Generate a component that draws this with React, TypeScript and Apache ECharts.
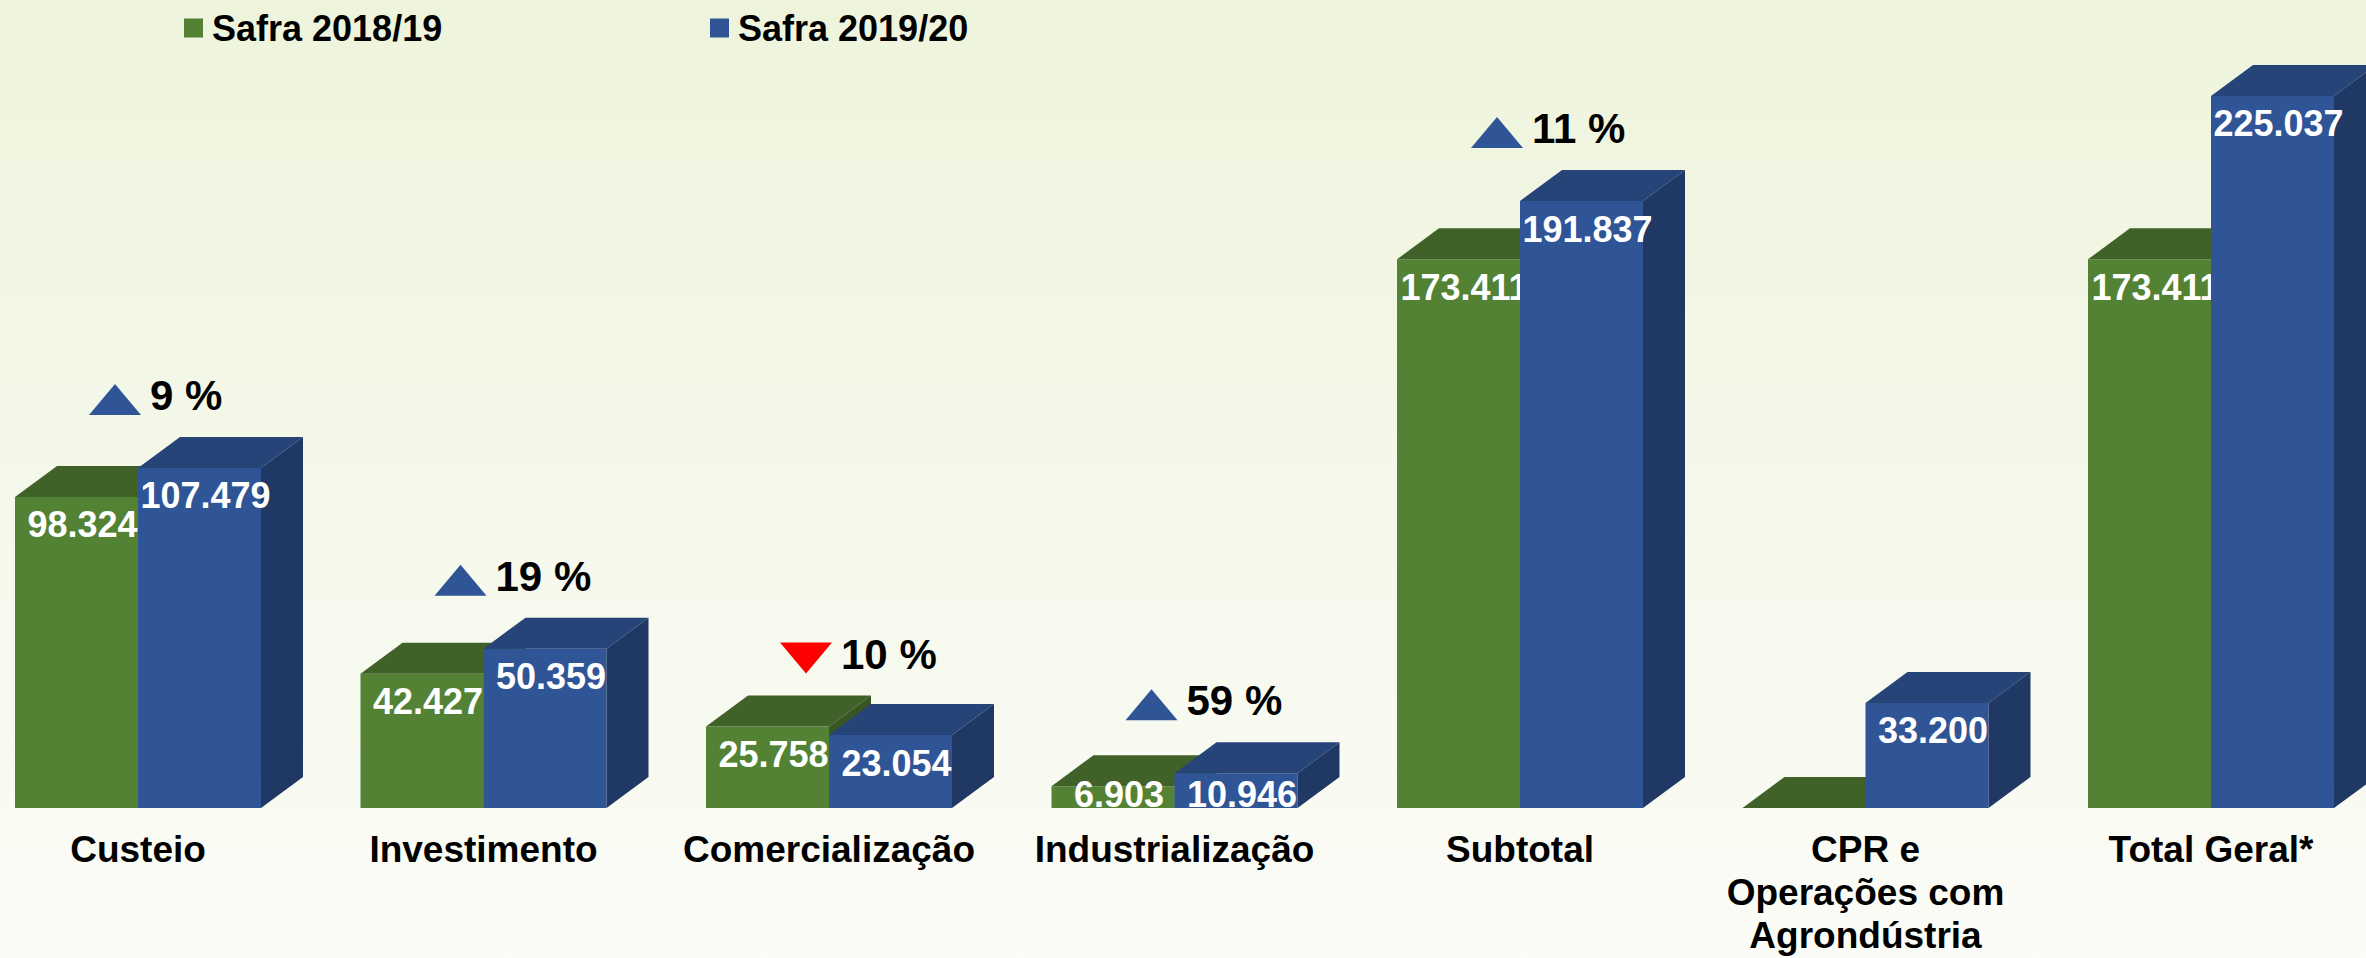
import React, { useEffect, useRef } from "react";
import * as echarts from "echarts";

const categories = [
  "Custeio",
  "Investimento",
  "Comercialização",
  "Industrialização",
  "Subtotal",
  "CPR e\nOperações com\nAgrondústria",
  "Total Geral*",
];
const seriesNames = ["Safra 2018/19", "Safra 2019/20"];
const safra1819 = [98324, 42427, 25758, 6903, 173411, 0, 173411];
const safra1920 = [107479, 50359, 23054, 10946, 191837, 33200, 225037];
const changePct: (number | null)[] = [9, 19, -10, 59, 11, null, null];

const FONT = '"Liberation Sans", Arial, Helvetica, sans-serif';
const DX = 42;
const DY = 31;

const palette = [
  { front: "#548235", top: "#406128", side: "#375623" },
  { front: "#2F5597", top: "#264478", side: "#203864" },
];

const fmt = (v: number) => String(v).replace(/\B(?=(\d{3})+(?!\d))/g, ".");

function barSeries(name: string, values: number[], idx: number) {
  const c = palette[idx];
  return {
    type: "custom",
    name,
    clip: false,
    itemStyle: { color: c.front },
    data: values.map((v, i) => [i, v]),
    renderItem: (params: any, api: any) => {
      const i = api.value(0);
      const v = api.value(1);
      const [cx, top] = api.coord([i, v]);
      const base = api.coord([i, 0])[1];
      const catW = api.size([1, 0])[0];
      const bw = catW * 0.356;
      const x0 = idx === 0 ? cx - bw : cx;
      const x1 = x0 + bw;
      const children: any[] = [];
      if (base - top > 0) {
        children.push({
          type: "rect",
          shape: { x: x0, y: top, width: bw, height: base - top },
          style: { fill: c.front },
        });
      }
      children.push({
        type: "polygon",
        shape: {
          points: [
            [x0, top],
            [x0 + DX, top - DY],
            [x1 + DX, top - DY],
            [x1, top],
          ],
        },
        style: { fill: c.top },
      });
      children.push({
        type: "polygon",
        shape: {
          points: [
            [x1, top],
            [x1 + DX, top - DY],
            [x1 + DX, base - DY],
            [x1, base],
          ],
        },
        style: { fill: c.side },
      });
      if (v > 0) {
        children.push({
          type: "text",
          style: {
            text: fmt(v),
            x: (x0 + x1) / 2 + 6,
            y: Math.min(top + 28, base - 14),
            fill: "#FFFFFF",
            font: `bold 36px ${FONT}`,
            align: "center",
            verticalAlign: "middle",
          },
        });
      }
      return { type: "group", children };
    },
  };
}

export default function App() {
  const ref = useRef<HTMLDivElement>(null);
  useEffect(() => {
    if (!ref.current) return;
    const chart = echarts.init(ref.current, null, { renderer: "svg" });
    const maxVals = safra1819.map((v, i) => Math.max(v, safra1920[i]));
    const legendText = { fontSize: 36, fontWeight: "bold", color: "#000", fontFamily: FONT, padding: [0, 0, 0, 4] };
    chart.setOption({
      animation: false,
      backgroundColor: {
        type: "linear",
        x: 0,
        y: 0,
        x2: 0,
        y2: 1,
        colorStops: [
          { offset: 0, color: "#EEF4DC" },
          { offset: 1, color: "#FBFCF7" },
        ],
      },
      legend: [
        {
          data: [seriesNames[0]],
          left: 184,
          top: 10,
          padding: 0,
          icon: "rect",
          itemWidth: 19,
          itemHeight: 19,
          textStyle: legendText,
        },
        {
          data: [seriesNames[1]],
          left: 710,
          top: 10,
          padding: 0,
          icon: "rect",
          itemWidth: 19,
          itemHeight: 19,
          textStyle: legendText,
        },
      ],
      grid: { left: 138, right: 155, top: 17, bottom: 150, containLabel: false },
      xAxis: {
        type: "category",
        data: categories,
        boundaryGap: false,
        axisLine: { show: false },
        axisTick: { show: false },
        splitLine: { show: false },
        axisLabel: {
          interval: 0,
          margin: 20,
          fontSize: 37,
          lineHeight: 43,
          fontWeight: "bold",
          color: "#000",
          fontFamily: FONT,
        },
      },
      yAxis: {
        type: "value",
        min: 0,
        max: 250000,
        show: false,
        splitLine: { show: false },
      },
      series: [
        barSeries(seriesNames[0], safra1819, 0),
        barSeries(seriesNames[1], safra1920, 1),
        {
          type: "custom",
          name: "variação",
          silent: true,
          clip: false,
          data: maxVals.map((v, i) => [i, v, changePct[i] === null ? NaN : (changePct[i] as number)]),
          renderItem: (params: any, api: any) => {
            const i = api.value(0);
            const v = api.value(1);
            const p = api.value(2);
            if (p === null || p === undefined || isNaN(p)) return null;
            const [cx, top] = api.coord([i, v]);
            const triBottom = top - DY - 22;
            const triTop = triBottom - 31;
            const tcx = cx - 23;
            const up = p >= 0;
            const pts = up
              ? [
                  [tcx - 26, triBottom],
                  [tcx + 26, triBottom],
                  [tcx, triTop],
                ]
              : [
                  [tcx - 26, triTop],
                  [tcx + 26, triTop],
                  [tcx, triBottom],
                ];
            return {
              type: "group",
              children: [
                {
                  type: "polygon",
                  shape: { points: pts },
                  style: { fill: up ? "#2F5597" : "#FF0000" },
                },
                {
                  type: "text",
                  style: {
                    text: `${Math.abs(p)} %`,
                    x: tcx + 26 + 9,
                    y: (triTop + triBottom) / 2 - 4,
                    fill: "#000",
                    font: `bold 42px ${FONT}`,
                    align: "left",
                    verticalAlign: "middle",
                  },
                },
              ],
            };
          },
        },
      ],
    });
    return () => chart.dispose();
  }, []);
  return (
    <div
      ref={ref}
      style={{ position: "absolute", left: 0, top: 0, width: 2366, height: 958 }}
    />
  );
}
